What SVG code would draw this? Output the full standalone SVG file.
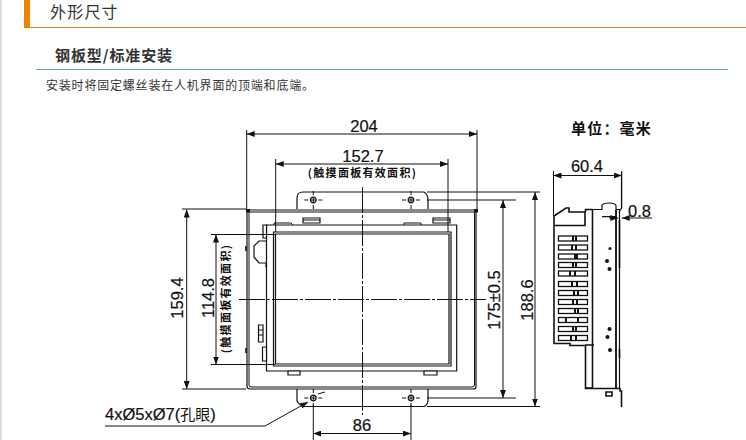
<svg xmlns="http://www.w3.org/2000/svg" width="746" height="440" viewBox="0 0 746 440">
<style>
.cjk{font-family:"Noto Sans CJK SC","Liberation Sans",sans-serif}
.num{font-family:"Liberation Sans",Arial,sans-serif;font-size:16.5px;fill:#111;stroke:#111;stroke-width:.2}
.lab{font-family:"Noto Sans CJK SC","Liberation Sans",sans-serif;fill:#111}
.l{fill:none;stroke:#111;stroke-width:1}
.m{fill:none;stroke:#111;stroke-width:1.2}
.h{fill:none;stroke:#111;stroke-width:1.6}
.c{fill:none;stroke:#111;stroke-width:1;stroke-dasharray:26 2 3 2}
.s{fill:#fff;stroke:#111;stroke-width:1.2}
</style>
<defs>
<marker id="a" viewBox="0 0 8 6" refX="8" refY="3" markerWidth="8" markerHeight="6" markerUnits="userSpaceOnUse" orient="auto-start-reverse"><path d="M0 0L8 3L0 6z" fill="#111"/></marker>
<g id="scr"><circle r="2.8" fill="none" stroke="#111" stroke-width="1.300"/><path d="M-2.500 0H2.500M0-2.500V2.500M-9 0H-5M5 0H9M0-9V-5M0 5V9" stroke="#111" stroke-width="1"/></g>
</defs>
<rect width="746" height="440" fill="#fff"/>
<rect x="0" y="0" width="2" height="440" fill="#ddd"/>
<g id="header">
<rect x="24" y="0" width="6" height="27" fill="#f08300"/>
<rect x="24" y="27" width="722" height="1" fill="#d9822b"/>
<text x="50" y="18" class="cjk" font-size="16" fill="#333" letter-spacing="1.200">外形尺寸</text>
<text x="55" y="61" class="cjk" font-size="15" font-weight="700" fill="#333" letter-spacing=".9">钢板型/标准安装</text>
<rect x="36" y="69" width="692" height="1" fill="#5fb0a6"/>
<text x="46" y="90" class="cjk" font-size="12" fill="#333" letter-spacing=".8">安装时将固定螺丝装在人机界面的顶端和底端。</text>
</g>
<g id="front-view">
<path class="m" d="M297 209V198Q297 192 303 192H424Q428 194 428 201V209"/>
<path class="m" d="M297 389V401Q298 404 304 406.500H424Q428 405 428 400V389"/>
<path class="m" d="M247 210H476V387Q476 389 473 389H250Q247 389 247 386Z"/>
<path class="l" d="M249 212H474.500V385Q474.500 387 472 387H251Q249 387 249 385Z"/>
<path fill="#111" d="M246 209H250V212.500H246ZM474 209H478V212.500H474Z"/>
<path class="m" d="M266.500 225H456.700V371H266.500Z"/>
<path class="m" d="M273.500 232H451V366H273.500Z"/>
<path class="m" d="M275.500 234H449V364H275.500Z"/>
<path class="l" d="M274 225V223H291L293 225M404 225V223H421V225"/>
<path class="s" d="M303 218H320V223H303ZM433 218H450V223H433Z"/>
<path class="l" d="M303 220H320M433 220H450"/>
<path class="s" d="M263 225H266.500V238H263ZM262.500 347H266.500V361H262.500ZM288 371V375H300V371ZM424 371V375H437V371Z"/>
<path class="m" d="M266 241H259L254 246V257L259 263H266V267"/>
<path class="s" d="M258.500 325H263V342H258.500Z"/>
<path class="l" d="M258.500 330H263M258.500 335H263"/>
<path class="h" d="M246 246V251M246 348V353"/>
<use href="#scr" x="313.300" y="200"/>
<use href="#scr" x="411" y="200"/>
<use href="#scr" x="313.300" y="398"/>
<use href="#scr" x="411" y="398"/>
<path d="M318 394L325 392" class="l"/>
</g>
<g id="side-view">
<path class="h" d="M554 216V343.500H570V345.500H585.500V388.500H620V391H621.500V407"/>
<path class="h" d="M554 216L566 208H569V212H585V225.500H554M585.500 212V209.500H592.500M592.500 209.500V388M585.500 388H593"/>
<path class="m" d="M592 209.500H602V205.500Q603 203 609 203Q615 203 616 205.500V209.500H619.500V388M616 209.500V388M621.500 172V208L619 212M602 216.700H616"/>
<path class="h" d="M619.500 220V268M619.500 349V358M616 210V388"/>
<path class="h" d="M606 392H612V396H606ZM585 345H594"/>
<g fill="#fff" stroke="#111" stroke-width="1.300">
<rect x="558.500" y="236" width="29" height="5"/><rect x="558.500" y="245" width="29" height="5"/><rect x="558.500" y="254" width="29" height="5"/><rect x="558.500" y="262.500" width="29" height="5"/><rect x="558.500" y="271" width="29" height="5"/>
<rect x="558.500" y="281.500" width="29" height="5"/><rect x="558.500" y="290.500" width="29" height="5"/><rect x="558.500" y="299.500" width="29" height="5"/><rect x="558.500" y="308.500" width="29" height="5"/><rect x="558.500" y="317.500" width="29" height="5"/><rect x="558.500" y="326.500" width="29" height="5"/><rect x="558.500" y="335.500" width="29" height="5"/>
</g>
<path d="M573 236V241M576 236V241M572 245V250M576 245V250M575 254V259M577 254V259M573 262.500V267.500M576 262.500V267.500M570 271V276M575 271V276M572 281.500V286.500M577 281.500V286.500M574 290.500V295.500M578 290.500V295.500M573 299.500V304.500M577 299.500V304.500M575 308.500V313.500M578 308.500V313.500M566 317.500V322.500M578 317.500V322.500M573 326.500V331.500M576 326.500V331.500M571 335.500V340.500M576 335.500V340.500" stroke="#111" stroke-width="2"/>
<g fill="#111"><circle cx="610" cy="248.500" r="1.500"/><circle cx="607" cy="261" r="2"/><circle cx="609.500" cy="269" r="2"/><circle cx="609.500" cy="329" r="2"/><circle cx="607.500" cy="337" r="2"/><circle cx="610" cy="350" r="2"/></g>
</g>
<g id="connectors">
<path class="l" d="M246.700 130V209M477 130V209M553.500 171V216M621.700 171V208M275.700 159V232M448 159V232"/>
<path class="l" d="M182 209H246M211 234.500H275M427 192H540M427 200H516M427 398H516M427 406.500H540M182 389H246M211 364.500H275M313.300 405V440M411 405V440"/>
<path class="c" d="M362.500 187V415"/>
<path class="c" d="M239 299.500H486"/>
<path class="l" marker-start="url(#a)" marker-end="url(#a)" d="M246.700 134H477"/>
<path class="l" marker-start="url(#a)" marker-end="url(#a)" d="M275.700 164H448"/>
<path class="l" marker-start="url(#a)" marker-end="url(#a)" d="M186.700 209.500V389"/>
<path class="l" marker-start="url(#a)" marker-end="url(#a)" d="M216 234.500V364.500"/>
<path class="l" marker-start="url(#a)" marker-end="url(#a)" d="M503 200V398"/>
<path class="l" marker-start="url(#a)" marker-end="url(#a)" d="M535 192V406.500"/>
<path class="l" marker-start="url(#a)" marker-end="url(#a)" d="M313.300 433.500H411"/>
<path class="l" marker-start="url(#a)" marker-end="url(#a)" d="M553.500 175.500H621.700"/>
<path class="l" marker-end="url(#a)" d="M609 218H618.300"/>
<path class="l" marker-end="url(#a)" d="M652 218H621.700"/>
<path class="l" marker-end="url(#a)" d="M105 426H265L308 402"/>
</g>
<g id="labels">
<text x="364" y="132" text-anchor="middle" class="num">204</text>
<text x="363" y="162" text-anchor="middle" class="num">152.7</text>
<text x="362.500" y="177" text-anchor="middle" class="lab" font-size="11" font-weight="700" letter-spacing="1.300">(触摸面板有效面积)</text>
<text x="183" y="298" text-anchor="middle" class="num" transform="rotate(-90 183 298)">159.4</text>
<text x="214" y="298" text-anchor="middle" class="num" transform="rotate(-90 214 298)">114.8</text>
<text x="230" y="298.500" text-anchor="middle" class="lab" font-size="11" font-weight="700" letter-spacing="1.300" transform="rotate(-90 230 298.500)">(触摸面板有效面积)</text>
<text x="500" y="300" text-anchor="middle" class="num" transform="rotate(-90 500 300)">175±0.5</text>
<text x="533" y="300" text-anchor="middle" class="num" transform="rotate(-90 533 300)">188.6</text>
<text x="362" y="431" text-anchor="middle" class="num">86</text>
<text x="587" y="172" text-anchor="middle" class="num">60.4</text>
<text x="628" y="217" class="num">0.8</text>
<text x="571" y="134" class="lab" font-size="15" font-weight="700" letter-spacing="1.200">单位：毫米</text>
<text x="105" y="420" class="num">4xØ5xØ7(<tspan class="lab" font-size="15" stroke="none">孔眼</tspan>)</text>
</g>
</svg>
